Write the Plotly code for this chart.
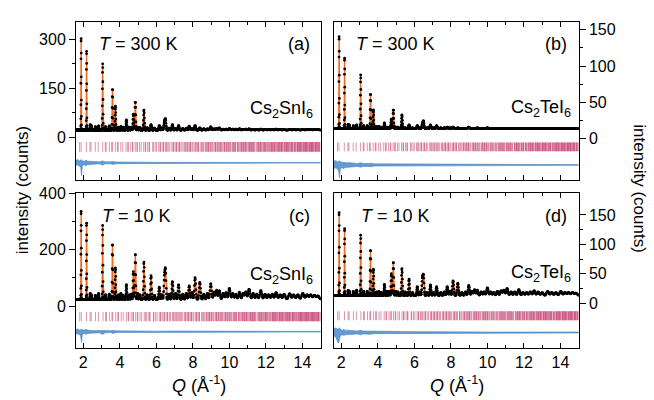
import numpy as np
import plotly.graph_objects as go

# ---------------- data ----------------
# prominent reflection positions (Q, 1/Angstrom), shared by all panels
PEAK_Q = [1.88, 2.18, 2.38, 2.44, 2.66, 2.84, 3.06, 3.22, 3.42, 3.60, 3.76, 3.92, 4.06, 4.18,
          4.36, 4.50, 4.62, 4.74, 4.85, 4.98, 5.10, 5.32, 5.50, 5.71, 5.90, 6.16, 6.30, 6.44,
          6.50, 6.70, 6.88, 7.05, 7.22, 7.45, 7.64, 7.80, 7.95, 8.12, 8.38, 8.60, 8.80, 8.98,
          9.16, 9.30, 9.45, 9.66, 9.82, 10.00, 10.18, 10.35, 10.55, 10.75, 10.90, 11.08, 11.30,
          11.50, 11.72, 11.95, 12.15, 12.35, 12.56, 12.78, 13.00, 13.30, 13.52, 13.75, 14.02,
          14.25, 14.45, 14.66, 14.85]

# apex intensity (counts) of each reflection, per panel
PEAK_A = [305, 265, 38, 35, 32, 34, 225, 32, 34, 148, 95, 30, 32, 30, 53, 30, 30, 70, 108, 30, 29,
          83, 28, 38, 27, 35, 28, 45, 53, 27, 38, 26, 35, 26, 27, 33, 26, 35, 28, 25, 25, 31, 25,
          26, 28, 24, 24, 26, 24, 24, 25, 23, 24, 25, 23, 23, 24, 23, 23, 23, 24, 23, 23, 23, 23,
          23, 23, 23, 23, 23, 23]
PEAK_B = [142, 112, 20, 19, 18, 19, 88, 18, 18, 62, 40, 17, 17, 16, 22, 16, 16, 27, 40, 16, 16,
          33, 15, 19, 15, 18, 15, 20, 24, 15, 19, 15, 18, 15, 15, 16, 15, 16, 15, 14, 14, 16, 14,
          14, 15, 14, 14, 15, 14, 14, 14, 14, 14, 14, 14, 14, 14, 14, 14, 14, 14, 14, 14, 14, 14,
          14, 14, 14, 14, 14, 14]
PEAK_C = [340, 297, 45, 40, 38, 45, 287, 40, 42, 221, 136, 40, 45, 38, 76, 40, 42, 122, 186, 45,
          40, 157, 40, 108, 38, 67, 40, 100, 125, 42, 87, 45, 76, 42, 45, 72, 48, 101, 84, 42, 45,
          80, 50, 56, 55, 45, 48, 63, 45, 42, 49, 45, 50, 60, 45, 42, 55, 42, 40, 42, 48, 40, 42,
          44, 40, 40, 45, 40, 40, 38, 36]
PEAK_D = [156, 128, 22, 20, 20, 22, 116, 20, 20, 91, 58, 19, 20, 18, 32, 20, 20, 50, 70, 20, 19,
          59, 19, 41, 18, 28, 19, 40, 45, 18, 31, 18, 28, 18, 19, 28, 20, 38, 34, 18, 19, 30, 20,
          23, 22, 19, 19, 26, 19, 18, 20, 21, 22, 25, 19, 19, 23, 18, 18, 19, 21, 19, 18, 20, 18,
          18, 20, 18, 18, 18, 17]

BACKGROUND = {"a": 21, "b": 14, "c": 24, "d": 13}
# lattice constants (Angstrom) used for the Bragg reflection markers
LATTICE = {"a": 11.60, "b": 11.62, "c": 11.54, "d": 11.56}
BRAGG_BAND = {"a": (-45, -15), "b": (-17, -5), "c": (-54, -21), "d": (-29, -14)}

# difference curve: centre and upper / lower envelope offsets
DIFF_Q = [1.60, 1.70, 1.80, 1.86, 1.90, 1.95, 2.05, 2.15, 2.20, 2.30, 2.50, 2.70, 2.90, 3.05,
          3.20, 3.50, 3.62, 3.80, 4.20, 4.80, 5.30, 6.00, 7.00, 8.00, 9.00, 10.0, 11.5, 13.0, 15.0]
DIFF_CENTER = {"a": -79, "b": -36, "c": -91, "d": -50}
DIFF_HI = {
    "a": [8, 10, 6, 8, 10, 6, 5, 8, 6, 5, 4, 4, 3, 6, 3, 3, 4, 2.5, 2, 2, 2, 1.5, 1.5, 1, 1, 0.8, 0.8, 0.8, 0.8],
    "b": [5, 6, 4, 5, 6, 4, 3.5, 4, 3.5, 3, 3, 2.5, 2, 3, 2, 2, 2.5, 1.5, 1.5, 1.2, 1.2, 1, 1, 0.6, 0.6, 0.5, 0.5, 0.5, 0.5],
    "c": [8, 10, 6, 8, 9, 7, 6, 8, 6, 5, 4, 4, 4, 6, 4, 3, 5, 3, 2.5, 3, 2.5, 2, 2.5, 2, 2, 1.5, 1.5, 1.2, 1.2],
    "d": [6, 8, 5, 6, 8, 5, 4, 5, 4, 4, 3, 3, 2.5, 4, 2.5, 2.5, 3, 2, 2, 2, 1.5, 1.2, 1.2, 1, 1, 0.8, 0.8, 0.8, 0.8],
}
DIFF_LO = {
    "a": [8, 6, 10, 14, 40, 8, 6, 10, 6, 5, 4, 4, 3, 7, 3, 3, 5, 2.5, 2, 2, 2, 1.5, 1.5, 1, 1, 0.8, 0.8, 0.8, 0.8],
    "b": [5, 4, 6, 9, 18, 5, 4, 5, 3.5, 3, 3, 2.5, 2, 3, 2, 2, 2.5, 1.5, 1.5, 1.2, 1.2, 1, 1, 0.6, 0.6, 0.5, 0.5, 0.5, 0.5],
    "c": [8, 8, 10, 18, 38, 9, 6, 10, 6, 5, 4, 4, 4, 10, 4, 3, 6, 3, 2.5, 3, 2.5, 2, 2.5, 2, 2, 1.5, 1.5, 1.2, 1.2],
    "d": [6, 8, 16, 18, 10, 5, 4, 5, 4, 4, 3, 3, 2.5, 4, 2.5, 2.5, 3, 2, 2, 2, 1.5, 1.2, 1.2, 1, 1, 0.8, 0.8, 0.8, 0.8],
}

PEAKS = {"a": PEAK_A, "b": PEAK_B, "c": PEAK_C, "d": PEAK_D}
TEMPS = {"a": "300 K", "b": "300 K", "c": "10 K", "d": "10 K"}
COMPOUND = {"a": "Cs<sub>2</sub>SnI<sub>6</sub>", "b": "Cs<sub>2</sub>TeI<sub>6</sub>",
            "c": "Cs<sub>2</sub>SnI<sub>6</sub>", "d": "Cs<sub>2</sub>TeI<sub>6</sub>"}
Y_RANGE = {"a": [-130, 353], "b": [-56, 161], "c": [-148, 400.5], "d": [-76, 187]}
Y_TICKS = {"a": [0, 150, 300], "b": [0, 50, 100, 150], "c": [0, 200, 400], "d": [0, 50, 100, 150]}
Y_MINOR = {"a": [75, 225], "b": [25, 75, 125], "c": [100, 300], "d": [25, 75, 125]}
X_RANGE = [1.6, 15.0]

# ---------------- styling / geometry ----------------
W, H = 654, 400
FONT = "Liberation Sans, Arial, Helvetica, sans-serif"
ORANGE = "#f26a1f"
BLUE = "#4a88c6"
BLUE_FILL = "rgba(74,136,198,0.85)"
PINK = "rgba(185,25,85,0.5)"

XDOM = {"L": [76 / W, 320.7 / W], "R": [334 / W, 578.7 / W]}
YDOM = {"T": [1 - 175 / H, 1 - 14 / H], "B": [1 - 346.7 / H, 1 - 189 / H]}
PANELS = [("a", "L", "T", ""), ("b", "R", "T", "2"), ("c", "L", "B", "3"), ("d", "R", "B", "4")]

# measurement grid (constant relative resolution, like TOF data)
q = np.exp(np.arange(np.log(X_RANGE[0]), np.log(X_RANGE[1]), 0.002))
REL_WIDTH = 0.0045


def profile(heights, bg):
    y = np.full_like(q, float(bg))
    for q0, h in zip(PEAK_Q, heights):
        amp = max(h - bg, 0)
        s = REL_WIDTH * q0
        y += amp * np.exp(-0.5 * ((q - q0) / s) ** 2)
    return y


def bragg_positions(a, qmax):
    g = 2 * np.pi / a
    nmax = int(qmax / g) + 1
    ns = set()
    for h in range(nmax + 1):
        for k in range(h + 1):
            for l in range(k + 1):
                if h % 2 == k % 2 == l % 2 and (h + k + l) > 0:
                    ns.add(h * h + k * k + l * l)
    qs = sorted(g * np.sqrt(n) for n in ns)
    return [v for v in qs if X_RANGE[0] <= v <= X_RANGE[1]]


fig = go.Figure()
for key, xs, ys, suf in PANELS:
    xa, ya = "x" + suf, "y" + suf
    # difference band
    c = DIFF_CENTER[key]
    hi = [c + v for v in DIFF_HI[key]]
    lo = [c - v for v in DIFF_LO[key]]
    fig.add_trace(go.Scatter(x=DIFF_Q + DIFF_Q[::-1], y=hi + lo[::-1], fill="toself",
                             fillcolor=BLUE_FILL, mode="lines", line=dict(color=BLUE, width=0.6),
                             xaxis=xa, yaxis=ya, showlegend=False, hoverinfo="skip"))
    # Bragg reflection markers
    bq = bragg_positions(LATTICE[key], X_RANGE[1])
    b0, b1 = BRAGG_BAND[key]
    fig.add_trace(go.Bar(x=bq, y=[b1 - b0] * len(bq), base=[b0] * len(bq), width=0.05,
                         marker=dict(color=PINK, line=dict(width=0)),
                         xaxis=xa, yaxis=ya, showlegend=False, hoverinfo="skip"))
    # calculated profile and observed points
    ycalc = profile(PEAKS[key], BACKGROUND[key])
    fig.add_trace(go.Scatter(x=q, y=ycalc, mode="lines", line=dict(color=ORANGE, width=1.4),
                             xaxis=xa, yaxis=ya, showlegend=False, hoverinfo="skip"))
    fig.add_trace(go.Scatter(x=q, y=ycalc, mode="markers",
                             marker=dict(color="black", size=2.8, line=dict(width=0)),
                             xaxis=xa, yaxis=ya, showlegend=False, hoverinfo="skip"))

layout = dict(width=W, height=H, margin=dict(l=0, r=0, t=0, b=0),
              paper_bgcolor="white", plot_bgcolor="white", barmode="overlay",
              font=dict(family=FONT, size=16, color="black"), showlegend=False)

for key, xs, ys, suf in PANELS:
    layout["xaxis" + suf] = dict(
        domain=XDOM[xs], anchor="y" + suf, range=X_RANGE, tick0=0, dtick=2,
        ticks="inside", ticklen=5, tickwidth=1, tickcolor="black",
        minor=dict(dtick=1, tick0=0, ticks="inside", ticklen=3, tickwidth=1, tickcolor="black"),
        showline=True, linecolor="black", linewidth=1, mirror="ticks",
        showgrid=False, zeroline=False, showticklabels=(ys == "B"),
        tickfont=dict(size=16))
    layout["yaxis" + suf] = dict(
        domain=YDOM[ys], anchor="x" + suf, range=Y_RANGE[key], side="left" if xs == "L" else "right",
        tickmode="array", tickvals=Y_TICKS[key], ticks="outside", ticklen=6, tickwidth=1,
        tickcolor="black",
        minor=dict(tickmode="array", tickvals=Y_MINOR[key], ticks="outside", ticklen=3,
                   tickwidth=1, tickcolor="black"),
        showline=True, linecolor="black", linewidth=1, mirror=True,
        showgrid=False, zeroline=False, tickfont=dict(size=16))

fig.update_layout(**layout)


def ann(text, x, y, xanchor="left", yanchor="middle", size=18, angle=0):
    fig.add_annotation(text=text, x=x / W, y=1 - y / H, xref="paper", yref="paper",
                       xanchor=xanchor, yanchor=yanchor, showarrow=False, textangle=angle,
                       font=dict(family=FONT, size=size, color="black"))


T_POS = {"a": (97, 37), "b": (354, 37), "c": (100, 212), "d": (359, 212)}
LBL_POS = {"a": (312, 37), "b": (569, 37), "c": (312, 212), "d": (569, 212)}
CMP_POS = {"a": (315, 104), "b": (573, 103), "c": (315, 273), "d": (573, 271)}
for key, xs, ys, suf in PANELS:
    ann("<i>T</i> = " + TEMPS[key], *T_POS[key])
    ann("(" + key + ")", *LBL_POS[key], xanchor="right")
    ann(COMPOUND[key], *CMP_POS[key], xanchor="right")

ann("intensity (counts)", 22, 186, xanchor="center", size=17, angle=-90)
ann("intensity (counts)", 640, 184, xanchor="center", size=17, angle=90)
ann("<i>Q</i> (Å<sup>-1</sup>)", 198.5, 384, xanchor="center", size=18)
ann("<i>Q</i> (Å<sup>-1</sup>)", 456.5, 384, xanchor="center", size=18)

fig.write_html("out.html")
